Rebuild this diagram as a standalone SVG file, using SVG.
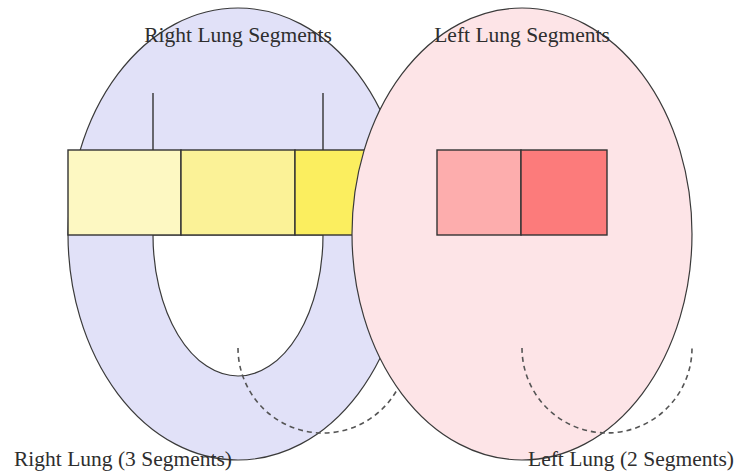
<svg xmlns="http://www.w3.org/2000/svg" width="738" height="474" viewBox="0 0 738 474">
<style>
.outline{stroke:#3a3a3a;stroke-width:1.2}
.seg{stroke:#333;stroke-width:1.4}
.dash{fill:none;stroke:#555;stroke-width:1.6;stroke-dasharray:5 4}
.lbl{font-family:"Liberation Serif","Times New Roman",serif;font-size:21.5px;fill:#2e2e2e}
</style>
<rect width="738" height="474" fill="#ffffff"/>
<g id="right-lung">
  <ellipse class="outline" cx="238" cy="234" rx="170" ry="226" fill="#e1e1f8"/>
  <path class="outline" d="M153,235 A85,141 0 0 0 323,235 Z" fill="#ffffff" stroke-width="1.3"/>
  <line class="seg" x1="153" y1="93" x2="153" y2="235"/>
  <line class="seg" x1="323" y1="93" x2="323" y2="235"/>
  <g id="right-upper"><rect class="seg" x="68" y="150" width="113" height="85" fill="#fdf8c2"/></g>
  <g id="right-middle"><rect class="seg" x="181" y="150" width="114" height="85" fill="#fbf297"/></g>
  <g id="right-lower"><rect class="seg" x="295" y="150" width="113" height="85" fill="#fbee5f"/></g>
</g>
<g id="connectors-right">
  <path class="dash" d="M238,348 A85,85 0 0 0 408,348"/>
</g>
<g id="left-lung">
  <ellipse class="outline" cx="522" cy="234" rx="170" ry="226" fill="#fde4e7"/>
  <g id="left-upper"><rect class="seg" x="437" y="150" width="84" height="85" fill="#fdadad"/></g>
  <g id="left-lower"><rect class="seg" x="521" y="150" width="86" height="85" fill="#fc7b7b"/></g>
</g>
<g id="connectors">
  <path class="dash" d="M522,348 A85,85 0 0 0 692,348"/>
</g>
<g id="labels">
  <text class="lbl" x="238" y="42" text-anchor="middle">Right Lung Segments</text>
  <text class="lbl" x="522" y="42" text-anchor="middle">Left Lung Segments</text>
  <text class="lbl" x="14" y="466">Right Lung (3 Segments)</text>
  <text class="lbl" x="734" y="466" text-anchor="end">Left Lung (2 Segments)</text>
</g>
</svg>
